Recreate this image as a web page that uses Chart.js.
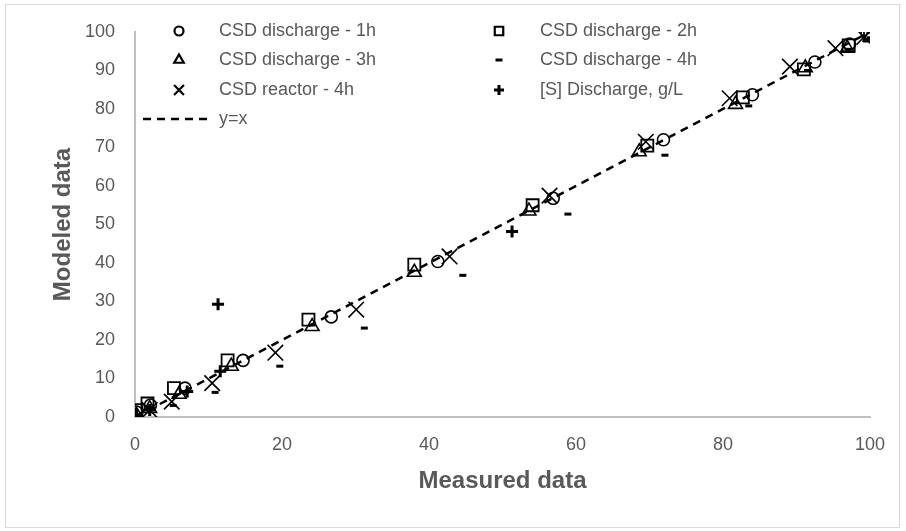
<!DOCTYPE html>
<html>
<head>
<meta charset="utf-8">
<script src="https://cdn.jsdelivr.net/npm/chart.js@4/dist/chart.umd.min.js"></script>
<style>
  body { margin: 0; background: #fff; }
  #wrap { width: 906px; height: 531px; }
</style>
</head>
<body>
<div id="wrap"><canvas id="myChart" width="906" height="531"></canvas></div>
<script>
// values (measured, modeled)
const d1h_x = [0.2, 2.1, 6.8, 14.7, 26.7, 41.2, 56.9, 71.9, 84.0, 92.5, 97.2, 99.6];
const d1h_y = [1.3, 3.1, 7.5, 14.7, 26.0, 40.4, 56.8, 72.0, 83.7, 92.2, 96.9, 99.6];
const d2h_x = [0.2, 1.7, 5.3, 12.6, 23.6, 38.0, 54.1, 69.7, 82.7, 91.0, 97.1, 100];
const d2h_y = [1.8, 3.5, 7.5, 14.7, 25.3, 39.6, 55.0, 70.5, 83.0, 90.3, 96.5, 99.1];
const d3h_x = [0.2, 2.0, 6.0, 13.1, 24.1, 38.0, 53.6, 68.6, 81.7, 91.2, 96.9, 100];
const d3h_y = [0.5, 2.2, 5.9, 13.2, 23.5, 37.6, 53.5, 68.9, 81.2, 90.7, 95.8, 98.7];
const d4h_x = [0.2, 2.0, 5.2, 10.9, 19.7, 31.2, 44.6, 58.9, 72.1, 83.5, 91.5, 97.0, 100];
const d4h_y = [0.3, 2.6, 3.0, 6.4, 13.2, 23.1, 36.8, 52.7, 68.0, 80.8, 90.0, 95.5, 98.5];
const reac_x = [0.2, 2.0, 5.0, 10.5, 19.1, 30.1, 42.8, 56.4, 69.5, 80.9, 89.1, 95.3, 99.2];
const reac_y = [0.0, 1.8, 4.0, 8.8, 16.7, 27.9, 41.7, 57.5, 71.5, 82.8, 91.0, 95.8, 98.7];
const s_x = [0.2, 2.0, 7.1, 11.6, 11.3, 51.3];
const s_y = [0.5, 1.8, 6.6, 11.9, 29.3, 48.2];
const line_x = [0, 100];
const line_y = [0, 100];

const xTicks = [0, 20, 40, 60, 80, 100];
const yTicks = [0, 10, 20, 30, 40, 50, 60, 70, 80, 90, 100];

function pts(xs, ys) {
    return xs.map((x, i) => ({x: x, y: ys[i]}));
}

const grey = '#595959';
const txtFont = '"Liberation Sans", Arial, sans-serif';

function marker(label, xs, ys, style, r, w) {
    return {
        label: label,
        data: pts(xs, ys),
        pointStyle: style,
        pointRadius: r,
        pointHoverRadius: r,
        pointBorderWidth: w,
        borderColor: '#000',
        backgroundColor: 'rgba(0,0,0,0)',
        showLine: false
    };
}

const datasets = [
    marker('CSD discharge - 1h', d1h_x, d1h_y, 'circle', 6, 1.6),
    marker('CSD discharge - 2h', d2h_x, d2h_y, 'rect', 8.5, 1.8),
    marker('CSD discharge - 3h', d3h_x, d3h_y, 'triangle', 8, 1.6),
    marker('CSD discharge - 4h', d4h_x, d4h_y, 'line', 3.5, 3),
    marker('CSD reactor - 4h', reac_x, reac_y, 'crossRot', 11, 1.6),
    marker('[S] Discharge, g/L', s_x, s_y, 'cross', 6, 3),
    {
        label: 'y=x',
        type: 'line',
        data: pts(line_x, line_y),
        borderColor: '#000',
        borderWidth: 2.5,
        borderDash: [8, 6],
        pointRadius: 0,
        fill: false
    }
];

// legend inside the plot, two columns like the original
const legendSpots = [
    {mx: 179, tx: 219, y: 31, r: 4.5},
    {mx: 499, tx: 540, y: 31, r: 6},
    {mx: 179, tx: 219, y: 60, r: 5.5},
    {mx: 499, tx: 540, y: 60, r: 3.5},
    {mx: 179, tx: 219, y: 90, r: 7},
    {mx: 499, tx: 540, y: 90, r: 5},
    {mx: 179, tx: 219, y: 119, r: 0}
];

const insideLegend = {
    id: 'insideLegend',
    afterDraw(chart) {
        const ctx = chart.ctx;
        ctx.save();
        ctx.font = '18px ' + txtFont;
        ctx.textBaseline = 'middle';
        chart.data.datasets.forEach((ds, i) => {
            const s = legendSpots[i];
            ctx.strokeStyle = '#000';
            ctx.fillStyle = 'rgba(0,0,0,0)';
            if (ds.type === 'line') {
                ctx.lineWidth = 2.5;
                ctx.setLineDash([8, 6]);
                ctx.beginPath();
                ctx.moveTo(143, s.y);
                ctx.lineTo(210, s.y);
                ctx.stroke();
                ctx.setLineDash([]);
            } else {
                const bw = ds.pointStyle === 'line' || ds.pointStyle === 'cross' ? 3 : 2.2;
                ctx.lineWidth = bw;
                Chart.helpers.drawPoint(ctx, {
                    pointStyle: ds.pointStyle,
                    radius: s.r,
                    borderWidth: bw,
                    rotation: 0
                }, s.mx, s.y);
            }
            ctx.fillStyle = grey;
            ctx.fillText(ds.label, s.tx, s.y);
        });
        // light outer frame
        ctx.strokeStyle = '#d9d9d9';
        ctx.lineWidth = 1;
        ctx.strokeRect(5.5, 4.5, 894, 523);
        ctx.restore();
    }
};

var context = document.getElementById('myChart');
var myChart = new Chart(context, {
    type: 'scatter',
    data: { datasets: datasets },
    plugins: [insideLegend],
    options: {
        responsive: false,
        animation: false,
        layout: { padding: { top: 32, right: 36, left: 44, bottom: 35 } },
        plugins: {
            legend: { display: false },
            tooltip: { enabled: false }
        },
        scales: {
            x: {
                min: 0,
                max: 100,
                afterFit: (scale) => { scale.height = 79; },
                afterBuildTicks: (scale) => { scale.ticks = xTicks.map(v => ({value: v})); },
                grid: { display: false, drawTicks: false },
                border: { display: true, color: '#c0c0c0', width: 2 },
                ticks: { color: grey, padding: 17, font: { family: txtFont, size: 18 } },
                title: {
                    display: true,
                    text: 'Measured data',
                    color: grey,
                    padding: { top: 0, bottom: 0 },
                    font: { family: txtFont, size: 24, weight: 'bold' }
                }
            },
            y: {
                min: 0,
                max: 100,
                afterFit: (scale) => { scale.width = 91; },
                afterBuildTicks: (scale) => { scale.ticks = yTicks.map(v => ({value: v})); },
                grid: { display: false, drawTicks: false },
                border: { display: true, color: '#c0c0c0', width: 2 },
                ticks: { color: grey, padding: 20, font: { family: txtFont, size: 18 } },
                title: {
                    display: true,
                    text: 'Modeled data',
                    color: grey,
                    padding: { top: 5, bottom: 0 },
                    font: { family: txtFont, size: 24, weight: 'bold' }
                }
            }
        }
    }
});
</script>
</body>
</html>
